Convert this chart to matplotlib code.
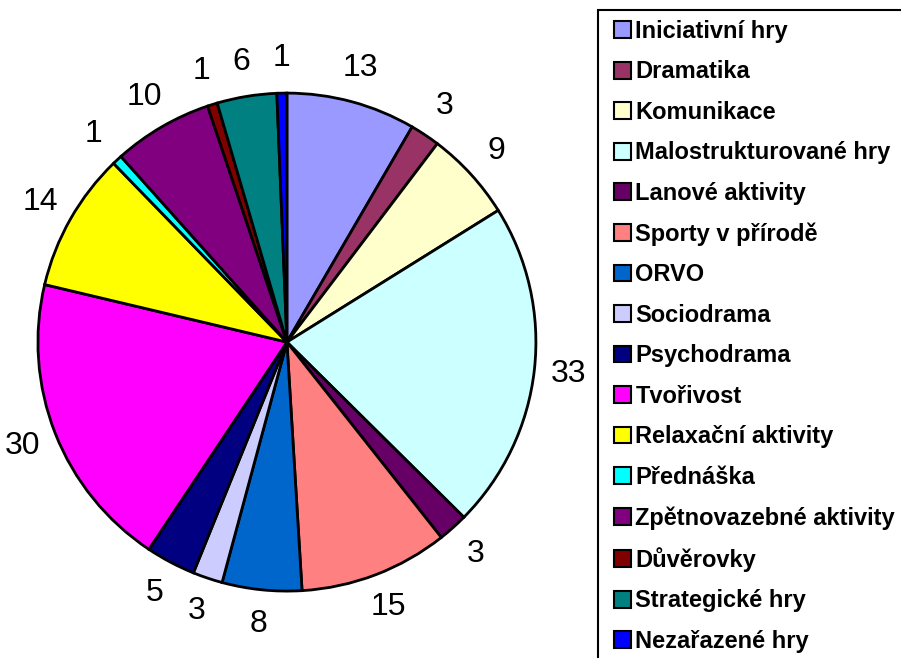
import matplotlib.pyplot as plt
from matplotlib.patches import Patch, Rectangle

plt.rcParams["font.family"] = ["Liberation Sans", "DejaVu Sans"]

categories = [
    "Iniciativní hry", "Dramatika", "Komunikace", "Malostrukturované hry",
    "Lanové aktivity", "Sporty v přírodě", "ORVO", "Sociodrama",
    "Psychodrama", "Tvořivost", "Relaxační aktivity", "Přednáška",
    "Zpětnovazebné aktivity", "Důvěrovky", "Strategické hry", "Nezařazené hry",
]
values = [13, 3, 9, 33, 3, 15, 8, 3, 5, 30, 14, 1, 10, 1, 6, 1]
colors = [
    "#9999FF", "#993366", "#FFFFCC", "#CCFFFF", "#660066", "#FF8080",
    "#0066CC", "#CCCCFF", "#000080", "#FF00FF", "#FFFF00", "#00FFFF",
    "#800080", "#800000", "#008080", "#0000FF",
]

W, H = 901, 658
fig = plt.figure(figsize=(W / 100, H / 100), dpi=100)
ax = fig.add_axes([0.0421, 0.1016, 0.5527, 0.757])

ax.pie(
    values, colors=colors, startangle=90, counterclock=False,
    labels=[str(v) for v in values], labeldistance=1.14,
    wedgeprops=dict(edgecolor="black", linewidth=2),
    textprops=dict(fontsize=23, ha="center", va="center"),
)
ax.set_xlim(-1, 1)
ax.set_ylim(-1, 1)
ax.set_aspect("equal")

# legend box runs off the right and bottom edge like in the original
fig.patches.append(Rectangle(
    (598 / W, -5 / H), 320 / W, (H - 10 + 5) / H, transform=fig.transFigure,
    facecolor="none", edgecolor="black", linewidth=1.5,
))

handles = [Patch(facecolor=c, edgecolor="black", linewidth=1.5) for c in colors]
leg = fig.legend(
    handles, categories, loc="upper left", bbox_to_anchor=(614 / W, 1 - 20 / H),
    borderaxespad=0, borderpad=0, frameon=False, handlelength=0.72,
    handleheight=0.72, handletextpad=0.18, labelspacing=0.74,
    prop=dict(size=17, weight="bold"),
)

fig.savefig("out.png", dpi=100)
